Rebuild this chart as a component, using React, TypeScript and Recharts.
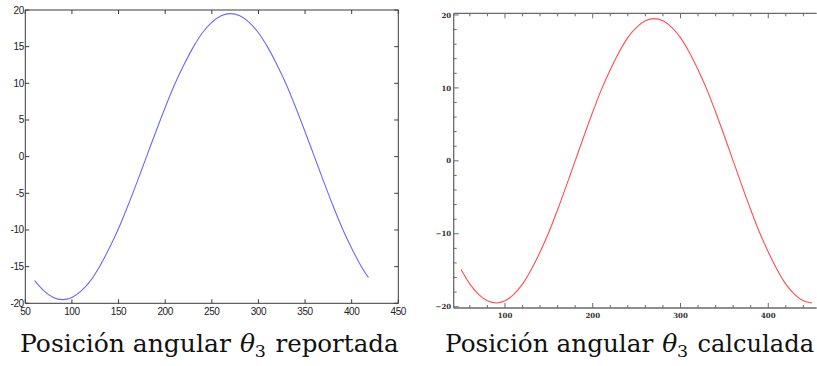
import React from "react";
import { LineChart, Line, XAxis, YAxis } from "recharts";

// Left chart: "reportada" (MATLAB-like)
const reportedAngle = [60, 70, 80, 90, 100, 110, 120, 130, 140, 150, 160, 170, 180, 190, 200, 210, 220, 230, 240, 250, 260, 270, 280, 290, 300, 310, 320, 330, 340, 350, 360, 370, 380, 390, 400, 410, 418];
const reportedTheta3 = [-16.9, -18.3, -19.2, -19.5, -19.2, -18.3, -16.9, -14.9, -12.5, -9.8, -6.7, -3.4, 0, 3.4, 6.7, 9.8, 12.5, 14.9, 16.9, 18.3, 19.2, 19.5, 19.2, 18.3, 16.9, 14.9, 12.5, 9.8, 6.7, 3.4, 0, -3.4, -6.7, -9.8, -12.5, -14.9, -16.5];

// Right chart: "calculada" (Mathematica-like)
const computedAngle = [50, 60, 70, 80, 90, 100, 110, 120, 130, 140, 150, 160, 170, 180, 190, 200, 210, 220, 230, 240, 250, 260, 270, 280, 290, 300, 310, 320, 330, 340, 350, 360, 370, 380, 390, 400, 410, 420, 430, 440, 450];
const computedTheta3 = [-14.9, -16.9, -18.3, -19.2, -19.5, -19.2, -18.3, -16.9, -14.9, -12.5, -9.8, -6.7, -3.4, 0, 3.4, 6.7, 9.8, 12.5, 14.9, 16.9, 18.3, 19.2, 19.5, 19.2, 18.3, 16.9, 14.9, 12.5, 9.8, 6.7, 3.4, 0, -3.4, -6.7, -9.8, -12.5, -14.9, -16.9, -18.3, -19.2, -19.5];

const leftXTicks = [50, 100, 150, 200, 250, 300, 350, 400, 450];
const leftYTicks = [-20, -15, -10, -5, 0, 5, 10, 15, 20];
const rightXTicks = [60, 80, 100, 120, 140, 160, 180, 200, 220, 240, 260, 280, 300, 320, 340, 360, 380, 400, 420, 440];
const rightYTicks = [-20, -18, -16, -14, -12, -10, -8, -6, -4, -2, 0, 2, 4, 6, 8, 10, 12, 14, 16, 18, 20];
const rightXMajor = [100, 200, 300, 400];
const rightYMajor = [-20, -10, 0, 10, 20];

const captionLead = "Posición angular";
const captionSymbol = "θ";
const captionSub = "3";
const leftCaptionWord = "reportada";
const rightCaptionWord = "calculada";

const reportedData = reportedAngle.map((x, i) => ({ x, y: reportedTheta3[i] }));
const computedData = computedAngle.map((x, i) => ({ x, y: computedTheta3[i] }));

const L_FRAME = "#3a3a3a";
const R_FRAME = "#6a6a6a";
const SERIF = "DejaVu Serif, Liberation Serif, serif";

const fmtMinus = (v: number) => (v < 0 ? "\u2212" + Math.abs(v) : String(v));

function LeftChart() {
  return (
    <LineChart width={410} height={330} data={reportedData} margin={{ top: 9, right: 10.7, bottom: 25.7, left: 24.3 }}>
      <XAxis
        xAxisId="b" type="number" dataKey="x" domain={[50, 450]} ticks={leftXTicks} interval={0}
        height={1} tickSize={0} tickMargin={0} tickLine={false} allowDataOverflow
        axisLine={{ stroke: L_FRAME, strokeWidth: 1 }}
        tick={(p: any) => (
          <g>
            <line x1={p.x} x2={p.x} y1={p.y} y2={p.y - 4} stroke={L_FRAME} />
            <text x={p.x} y={p.y + 11.5} textAnchor="middle" fontFamily="Liberation Sans" fontSize={10} fill="#222" letterSpacing={-0.4}>{p.payload.value}</text>
          </g>
        )}
      />
      <XAxis
        xAxisId="t" orientation="top" type="number" dataKey="x" domain={[50, 450]} ticks={leftXTicks} interval={0}
        height={1} tickSize={0} tickMargin={0} tickLine={false} allowDataOverflow
        axisLine={{ stroke: L_FRAME, strokeWidth: 1 }}
        tick={(p: any) => <line x1={p.x} x2={p.x} y1={p.y} y2={p.y + 4} stroke={L_FRAME} />}
      />
      <YAxis
        yAxisId="l" type="number" domain={[-20, 20]} ticks={leftYTicks} interval={0}
        width={1} tickSize={0} tickMargin={0} tickLine={false} allowDataOverflow
        axisLine={{ stroke: L_FRAME, strokeWidth: 1 }}
        tick={(p: any) => (
          <g>
            <line x1={p.x} x2={p.x + 4} y1={p.y} y2={p.y} stroke={L_FRAME} />
            <text x={p.x - 1.5} y={p.y + 3.5} textAnchor="end" fontFamily="Liberation Sans" fontSize={10} fill="#222" letterSpacing={-0.4}>{p.payload.value}</text>
          </g>
        )}
      />
      <YAxis
        yAxisId="r" orientation="right" type="number" domain={[-20, 20]} ticks={leftYTicks} interval={0}
        width={1} tickSize={0} tickMargin={0} tickLine={false} allowDataOverflow
        axisLine={{ stroke: L_FRAME, strokeWidth: 1 }}
        tick={(p: any) => <line x1={p.x} x2={p.x - 4} y1={p.y} y2={p.y} stroke={L_FRAME} />}
      />
      <Line xAxisId="b" yAxisId="l" type="monotone" dataKey="y" stroke="#6a6af8" strokeWidth={1.1} dot={false} isAnimationActive={false} />
    </LineChart>
  );
}

function RightChart() {
  return (
    <LineChart width={407} height={330} data={computedData} margin={{ top: 12.3, right: 0.3, bottom: 21, left: 42.7 }}>
      <XAxis
        xAxisId="b" type="number" dataKey="x" domain={[41.6, 455.2]} ticks={rightXTicks} interval={0}
        height={1} tickSize={0} tickMargin={0} tickLine={false} allowDataOverflow
        axisLine={{ stroke: R_FRAME, strokeWidth: 1.3 }}
        tick={(p: any) => {
          const major = rightXMajor.includes(p.payload.value);
          return (
            <g>
              <line x1={p.x} x2={p.x} y1={p.y} y2={p.y - (major ? 5 : 3)} stroke={R_FRAME} />
              {major && <text x={p.x} y={p.y + 9.5} textAnchor="middle" fontFamily={SERIF} fontSize={7} fontWeight={700} fill="#333">{p.payload.value}</text>}
            </g>
          );
        }}
      />
      <XAxis
        xAxisId="t" orientation="top" type="number" dataKey="x" domain={[41.6, 455.2]} ticks={rightXTicks} interval={0}
        height={1} tickSize={0} tickMargin={0} tickLine={false} allowDataOverflow
        axisLine={{ stroke: R_FRAME, strokeWidth: 1.3 }}
        tick={(p: any) => {
          const major = rightXMajor.includes(p.payload.value);
          return <line x1={p.x} x2={p.x} y1={p.y} y2={p.y + (major ? 5 : 3)} stroke={R_FRAME} />;
        }}
      />
      <YAxis
        yAxisId="l" type="number" domain={[-20.18, 20.23]} ticks={rightYTicks} interval={0}
        width={1} tickSize={0} tickMargin={0} tickLine={false} allowDataOverflow
        axisLine={{ stroke: R_FRAME, strokeWidth: 1.3 }}
        tick={(p: any) => {
          const major = rightYMajor.includes(p.payload.value);
          return (
            <g>
              <line x1={p.x} x2={p.x + (major ? 5 : 3)} y1={p.y} y2={p.y} stroke={R_FRAME} />
              {major && <text x={p.x - 2.5} y={p.y + 2.6} textAnchor="end" fontFamily={SERIF} fontSize={7} fontWeight={700} fill="#333">{fmtMinus(p.payload.value)}</text>}
            </g>
          );
        }}
      />
      <Line xAxisId="b" yAxisId="l" type="monotone" dataKey="y" stroke="#ff4d4d" strokeWidth={1.1} dot={false} isAnimationActive={false} />
    </LineChart>
  );
}

// Caption laid out piecewise (LaTeX-like proportions, em-based)
function Caption({ x0, em, word, wordEm }: { x0: number; em: number; word: string; wordEm: number }) {
  const base = 352.3;
  const common = { fontFamily: SERIF, fill: "#111" } as const;
  return (
    <g>
      <text x={x0} y={base} fontSize={25} {...common} textLength={7.246 * em} lengthAdjust="spacingAndGlyphs">{captionLead}</text>
      <text x={x0 + 7.56 * em} y={base} fontSize={25} fontStyle="italic" {...common}>{captionSymbol}</text>
      <text x={x0 + 8.07 * em} y={base + 4.4} fontSize={17.5} {...common}>{captionSub}</text>
      <text x={x0 + 8.78 * em} y={base} fontSize={25} {...common} textLength={wordEm * em} lengthAdjust="spacingAndGlyphs">{word}</text>
    </g>
  );
}

export default function App() {
  return (
    <div style={{ position: "absolute", left: 0, top: 0, width: 817, height: 366, background: "#fff", overflow: "hidden" }}>
      <div style={{ position: "absolute", left: 0, top: 0 }}>
        <LeftChart />
      </div>
      <div style={{ position: "absolute", left: 410, top: 0 }}>
        <RightChart />
      </div>
      <svg width={817} height={366} style={{ position: "absolute", left: 0, top: 0, pointerEvents: "none" }}>
        <Caption x0={20} em={29.1} word={leftCaptionWord} wordEm={4.229} />
        <Caption x0={445} em={28.75} word={rightCaptionWord} wordEm={4.056} />
      </svg>
    </div>
  );
}
